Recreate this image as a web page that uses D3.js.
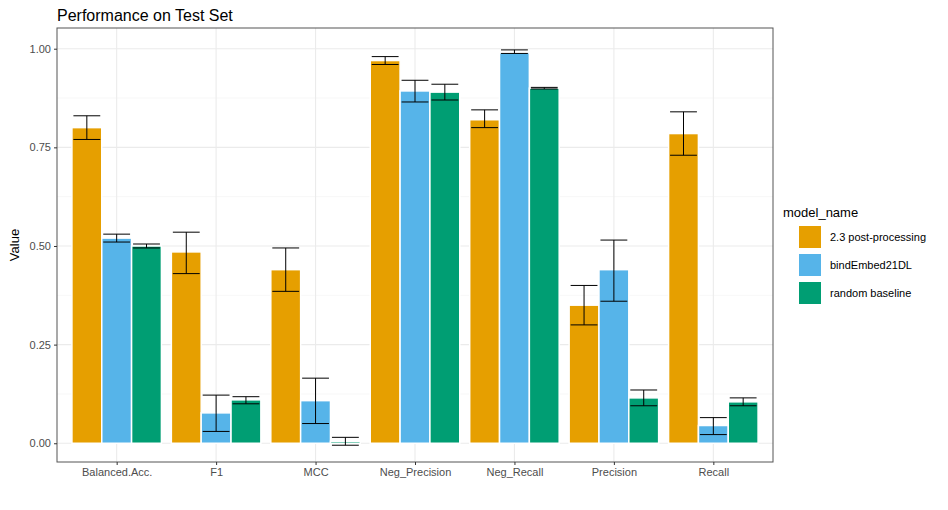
<!DOCTYPE html>
<html><head><meta charset="utf-8">
<script src="https://cdn.jsdelivr.net/npm/d3@7"></script>
<style>body{margin:0;background:#fff;font-family:"Liberation Sans",Arial,sans-serif}</style>
</head><body>
<svg id="chart" width="948" height="510"></svg>
<script>
const categories = ['Balanced.Acc.', 'F1', 'MCC', 'Neg_Precision', 'Neg_Recall', 'Precision', 'Recall'];
const models = ['2.3 post-processing', 'bindEmbed21DL', 'random baseline'];
const colors = ['#E69F00', '#56B4E9', '#009E73'];
// mean, low, high per model, per category
const postValues = [[0.80,0.77,0.83],[0.485,0.43,0.535],[0.44,0.385,0.495],[0.97,0.96,0.98],[0.82,0.80,0.845],[0.35,0.30,0.40],[0.785,0.73,0.84]];
const bindValues = [[0.52,0.51,0.53],[0.077,0.03,0.122],[0.108,0.05,0.165],[0.893,0.865,0.92],[0.99,0.988,0.997],[0.44,0.36,0.515],[0.045,0.022,0.065]];
const randValues = [[0.50,0.495,0.505],[0.11,0.10,0.118],[0.005,-0.005,0.015],[0.89,0.87,0.91],[0.90,0.898,0.902],[0.115,0.095,0.135],[0.105,0.095,0.115]];
const yTicks = [0, 0.25, 0.5, 0.75, 1.0];

const series = [postValues, bindValues, randValues];
const data = [];
categories.forEach((c, i) => models.forEach((m, j) => data.push({cat: c, j: j, model: m, v: series[j][i][0], lo: series[j][i][1], hi: series[j][i][2]})));

const svg = d3.select('#chart');
const W = 773 - 57, H = 462 - 28;
const g = svg.append('g').attr('transform', 'translate(57,28)');

const x = d3.scalePoint().domain(categories).range([0, W]).padding(0.6);
const unit = x.step();
const bw = unit * 0.3;
const y = d3.scaleLinear().domain([-0.0475, 1.0525]).range([H, 0]);
const color = d3.scaleOrdinal().domain(models).range(colors);
const bx = d => x(d.cat) + (d.j - 1.5) * bw;

// grid
const minor = [0.125, 0.375, 0.625, 0.875];
g.selectAll('.minor').data(minor).join('line').attr('x1', 0).attr('x2', W)
  .attr('y1', d => y(d)).attr('y2', d => y(d)).attr('stroke', '#f2f2f2').attr('stroke-width', 0.6);
g.selectAll('.major').data(yTicks).join('line').attr('x1', 0).attr('x2', W)
  .attr('y1', d => y(d)).attr('y2', d => y(d)).attr('stroke', '#ebebeb').attr('stroke-width', 1.1);
g.selectAll('.vgrid').data(categories).join('line').attr('y1', 0).attr('y2', H)
  .attr('x1', d => x(d)).attr('x2', d => x(d))
  .attr('stroke', '#ebebeb').attr('stroke-width', 1.1);

// bars
g.selectAll('.bar').data(data).join('rect')
  .attr('x', bx).attr('width', bw)
  .attr('y', d => y(Math.max(0, d.v))).attr('height', d => Math.abs(y(0) - y(d.v)))
  .attr('fill', d => color(d.model)).attr('stroke', '#fff').attr('stroke-width', 1.5);

// error bars
const ew = bw * 0.45;
const eg = g.selectAll('.err').data(data).join('g')
  .attr('transform', d => `translate(${bx(d) + bw / 2},0)`)
  .attr('stroke', '#000').attr('stroke-width', 1);
eg.append('line').attr('y1', d => y(d.lo)).attr('y2', d => y(d.hi));
eg.append('line').attr('x1', -ew).attr('x2', ew).attr('y1', d => y(d.lo)).attr('y2', d => y(d.lo));
eg.append('line').attr('x1', -ew).attr('x2', ew).attr('y1', d => y(d.hi)).attr('y2', d => y(d.hi));

// border
g.append('rect').attr('width', W).attr('height', H).attr('fill', 'none').attr('stroke', '#555').attr('stroke-width', 1);

// axes
const ya = g.append('g').call(d3.axisLeft(y).tickValues(yTicks).tickFormat(d3.format('.2f')).tickSize(3));
const xa = g.append('g').attr('transform', `translate(0,${H})`).call(d3.axisBottom(x).tickSize(3));
[ya, xa].forEach(a => {
  a.select('.domain').remove();
  a.selectAll('line').attr('stroke', '#333');
  a.selectAll('text').attr('fill', '#4d4d4d').style('font-size', '11px');
});

svg.append('text').attr('x', 57).attr('y', 21).text('Performance on Test Set').style('font-size', '16px').attr('fill', '#000');
svg.append('text').attr('transform', `translate(19,${28 + H / 2}) rotate(-90)`).attr('text-anchor', 'middle')
  .text('Value').style('font-size', '13px');

// legend
const lg = svg.append('g').attr('transform', 'translate(783,0)');
lg.append('text').attr('x', 0).attr('y', 217).text('model_name').style('font-size', '13px');
models.forEach((m, i) => {
  const yy = 226 + i * 28;
  lg.append('rect').attr('x', 16).attr('y', yy).attr('width', 22).attr('height', 22).attr('fill', colors[i]);
  lg.append('text').attr('x', 47).attr('y', yy + 15).text(m).style('font-size', '11px');
});
</script>
</body></html>
